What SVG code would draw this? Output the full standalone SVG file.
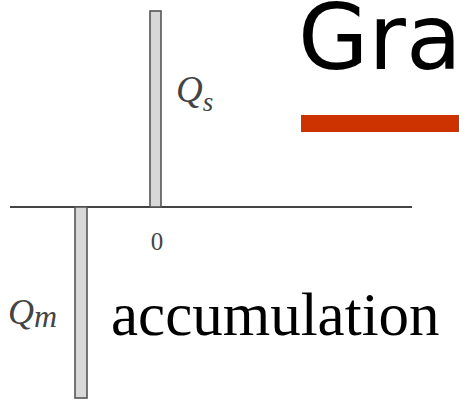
<svg xmlns="http://www.w3.org/2000/svg" width="459" height="404" viewBox="0 0 459 404">
<style>
.bar{fill:#d8d8d8;stroke:#555;stroke-width:1.6}
.lbl{font-family:"Liberation Serif",serif;font-style:italic;fill:#444}
</style>
<rect width="459" height="404" fill="#fff"/>
<g id="title">
<text x="298" y="69" font-family="DejaVu Sans,sans-serif" font-size="91" fill="#000">Gra</text>
<rect x="301" y="115" width="158" height="17" fill="#cc3300"/>
</g>
<g id="axis">
<line x1="10" y1="207" x2="412" y2="207" stroke="#444" stroke-width="2"/>
<text x="157" y="250" font-family="Liberation Serif,serif" font-size="25" fill="#444" text-anchor="middle">0</text>
</g>
<g id="supply">
<rect class="bar" x="150" y="11" width="11" height="196"/>
<text class="lbl" x="176" y="102" font-size="37">Q<tspan font-size="27" dy="9">s</tspan></text>
</g>
<g id="demand">
<rect class="bar" x="75" y="207" width="12" height="191"/>
<text class="lbl" x="8" y="324" font-size="36">Q<tspan font-size="32" dy="3">m</tspan></text>
</g>
<g id="note">
<text x="111" y="335" font-family="Liberation Serif,serif" font-size="61" fill="#000">accumulation</text>
</g>
</svg>
